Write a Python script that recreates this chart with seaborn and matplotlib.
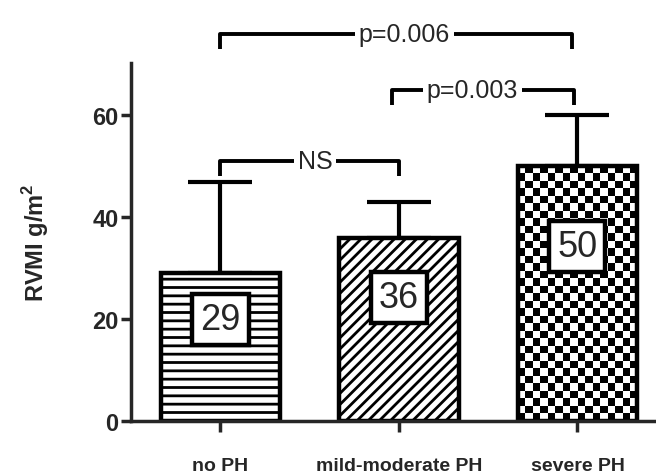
import numpy as np
import pandas as pd
import matplotlib
matplotlib.use("Agg")
import matplotlib.pyplot as plt
import seaborn as sns

categories = ["no PH", "mild-moderate PH", "severe PH"]
means = [29, 36, 50]
sd_upper = [18, 7, 10]
value_labels = ["29", "36", "50"]
label_y = [19.9, 24.2, 34.2]
brackets = [  # (x_left, x_right, y, text, text_x)
    (0, 1.0, 51, "NS", 0.53),
    (0.96, 1.98, 64.9, "p=0.003", 1.41),
    (0, 1.97, 75.9, "p=0.006", 1.03),
]
yticks = [0, 20, 40, 60]

sns.set_style("ticks")
plt.rcParams['font.family'] = ['Liberation Sans', 'DejaVu Sans']
plt.rcParams['mathtext.fontset'] = 'custom'
plt.rcParams['mathtext.bf'] = 'Liberation Sans:bold'
plt.rcParams['mathtext.rm'] = 'Liberation Sans'
plt.rcParams['hatch.linewidth'] = 2.0
plt.rcParams['hatch.color'] = 'black'

df = pd.DataFrame({"group": categories, "value": means})

fig = plt.figure(figsize=(6.56, 4.77), dpi=100)
ax = fig.add_axes([0.2, 0.115, 0.80, 0.751])

ax.errorbar(x=np.arange(len(means)), y=means, yerr=[[0] * 3, sd_upper],
            fmt='none', ecolor='black', elinewidth=3, capsize=23, capthick=3,
            zorder=0.5)

sns.barplot(data=df, x="group", y="value", color="white", edgecolor="black",
            linewidth=3.2, width=0.67, errorbar=None, ax=ax, zorder=2)

patches = ax.patches
patches[0].set_hatch('--')
patches[1].set_hatch('///')
p3 = patches[2]
p3.set_facecolor('none')
x0, w = p3.get_x(), p3.get_width()
h = p3.get_height()
ncols, nrows = 16, 34
checker = np.indices((nrows, ncols)).sum(axis=0) % 2
im = ax.imshow(checker, extent=(x0, x0 + w, 0, h), cmap='gray_r',
               interpolation='nearest', aspect='auto', zorder=1.5)
im.set_clip_path(p3)
p3.set_zorder(2)

for i, (lab, ly) in enumerate(zip(value_labels, label_y)):
    ax.text(i, ly, lab, ha='center', va='center', fontsize=26, zorder=5,
            bbox=dict(boxstyle='square,pad=0.22', fc='white', ec='black', lw=3.2))

for xl, xr, yb, txt, tx in brackets:
    ax.plot([xl, xl, xr, xr], [yb - 2.8, yb, yb, yb - 2.8], color='black',
            lw=2.8, clip_on=False, solid_capstyle='butt', zorder=3)
    ax.text(tx, yb, txt, ha='center', va='center', fontsize=18, zorder=4,
            clip_on=False,
            bbox=dict(boxstyle='square,pad=0.15', fc='white', ec='none'))

ax.set_xlim(-0.5, 2.44)
ax.set_ylim(0, 70.3)
ax.set_yticks(yticks)
ax.set_yticklabels([str(t) for t in yticks], fontsize=17, fontweight='bold',
                   family=['Liberation Sans Narrow', 'Liberation Sans'])
ax.set_xticks(range(3))
ax.set_xticklabels(categories, fontsize=14, fontweight='bold')
ax.tick_params(axis='y', length=7, width=2.5, pad=2)
ax.tick_params(axis='x', length=8, width=2.5, pad=18)
ax.set_xlabel("")
ax.set_ylabel(r"RVMI g/m$^\mathbf{2}$", fontsize=17, fontweight='bold', labelpad=30)
for s in ['left', 'bottom']:
    ax.spines[s].set_linewidth(2.5)
sns.despine(ax=ax)

fig.savefig("out.png", dpi=100)
